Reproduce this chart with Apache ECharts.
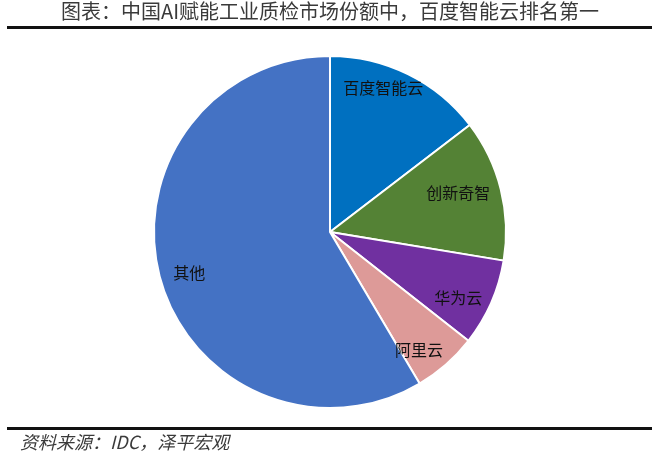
<!DOCTYPE html>
<html>
<head>
<meta charset="utf-8">
<script src="https://cdn.jsdelivr.net/npm/echarts@6/dist/echarts.min.js"></script>
<style>html,body{margin:0;padding:0;background:#fff}#c{width:660px;height:456px}</style>
</head>
<body>
<div id="c"></div>
<script>
const categories = ['百度智能云', '创新奇智', '华为云', '阿里云', '其他'];
const shares = [14.6, 13.0, 8.0, 5.9, 58.5];
const colors = ['#0070C0', '#548235', '#7030A0', '#DD9A98', '#4472C4'];
const labelOffsets = [[13, -62], [40, -17], [45, 29], [29, 49], [-53, 17]];
const titleText = '图表：中国AI赋能工业质检市场份额中，百度智能云排名第一';
const sourceText = '资料来源：IDC，泽平宏观';

const chart = echarts.init(document.getElementById('c'), null, {renderer: 'canvas'});
const font = '"Noto Sans CJK SC", "Noto Sans", sans-serif';
chart.setOption({
  animation: false,
  backgroundColor: '#fff',
  graphic: [
    {type: 'text', left: 'center', top: 1, style: {text: titleText, font: '20px ' + font, fill: '#3a3a3a'}},
    {type: 'line', shape: {x1: 7, y1: 27.5, x2: 652, y2: 27.5}, style: {stroke: '#111', lineWidth: 3}},
    {type: 'line', shape: {x1: 7, y1: 428.5, x2: 652, y2: 428.5}, style: {stroke: '#111', lineWidth: 3}},
    {type: 'text', left: 20, top: 433, style: {text: sourceText, font: 'italic 18px ' + font, fill: '#3a3a3a'}}
  ],
  series: [{
    type: 'pie',
    center: [330, 232],
    radius: [0, 176],
    startAngle: 90,
    clockwise: true,
    itemStyle: {borderColor: '#fff', borderWidth: 2},
    labelLine: {show: false},
    emphasis: {disabled: true},
    data: categories.map((name, i) => ({
      name: name,
      value: shares[i],
      itemStyle: {color: colors[i]},
      label: {offset: labelOffsets[i]}
    })),
    label: {position: 'inside', color: '#111', fontSize: 16, fontFamily: font, formatter: '{b}'}
  }]
});
</script>
</body>
</html>
